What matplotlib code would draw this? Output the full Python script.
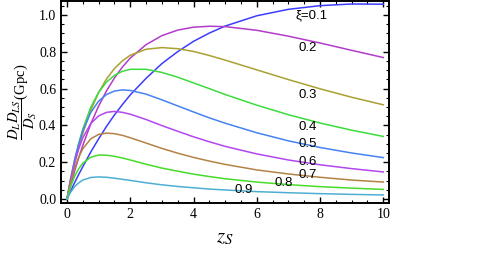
import matplotlib
matplotlib.use("Agg")
import matplotlib.pyplot as plt
from matplotlib.ticker import MultipleLocator, FormatStrFormatter

# redshift of the source
z_s = [0, 0.1, 0.25, 0.375, 0.5, 0.75, 1, 1.25, 1.5, 1.75, 2, 2.5, 3, 3.5, 4, 4.5, 5, 6, 7, 8, 9, 10]

# D_L D_LS / D_S in Gpc, one list per xi
xi_01 = [0, 0.038, 0.092, 0.135, 0.176, 0.255, 0.327, 0.395, 0.457, 0.513, 0.566, 0.656, 0.736, 0.801, 0.857, 0.902, 0.940, 0.996, 1.031, 1.051, 1.060, 1.059]
xi_02 = [0, 0.066, 0.157, 0.227, 0.292, 0.408, 0.505, 0.588, 0.658, 0.717, 0.766, 0.839, 0.888, 0.918, 0.934, 0.939, 0.937, 0.917, 0.885, 0.848, 0.808, 0.769]
xi_03 = [0, 0.085, 0.199, 0.282, 0.357, 0.482, 0.579, 0.653, 0.709, 0.751, 0.781, 0.814, 0.823, 0.817, 0.802, 0.780, 0.755, 0.702, 0.649, 0.599, 0.553, 0.512]
xi_04 = [0, 0.096, 0.219, 0.306, 0.381, 0.498, 0.580, 0.636, 0.672, 0.694, 0.705, 0.705, 0.688, 0.662, 0.631, 0.600, 0.568, 0.510, 0.458, 0.413, 0.374, 0.340]
xi_05 = [0, 0.098, 0.220, 0.302, 0.371, 0.470, 0.532, 0.568, 0.587, 0.593, 0.590, 0.570, 0.539, 0.506, 0.473, 0.441, 0.412, 0.360, 0.316, 0.280, 0.250, 0.225]
xi_06 = [0, 0.093, 0.205, 0.275, 0.333, 0.410, 0.452, 0.471, 0.476, 0.471, 0.461, 0.432, 0.399, 0.368, 0.338, 0.311, 0.286, 0.245, 0.212, 0.186, 0.165, 0.147]
xi_07 = [0, 0.080, 0.173, 0.229, 0.273, 0.327, 0.351, 0.358, 0.355, 0.346, 0.333, 0.304, 0.275, 0.249, 0.226, 0.206, 0.188, 0.158, 0.136, 0.118, 0.103, 0.092]
xi_08 = [0, 0.060, 0.127, 0.166, 0.195, 0.227, 0.239, 0.238, 0.232, 0.223, 0.212, 0.189, 0.168, 0.151, 0.135, 0.122, 0.110, 0.092, 0.078, 0.067, 0.059, 0.052]
xi_09 = [0, 0.033, 0.069, 0.088, 0.103, 0.117, 0.120, 0.118, 0.113, 0.107, 0.101, 0.088, 0.077, 0.068, 0.061, 0.054, 0.049, 0.040, 0.034, 0.029, 0.025, 0.022]

curves = [xi_01, xi_02, xi_03, xi_04, xi_05, xi_06, xi_07, xi_08, xi_09]
labels = ["\u03be=0.1", "0.2", "0.3", "0.4", "0.5", "0.6", "0.7", "0.8", "0.9"]

colors = ["#3c3cff", "#b23cc8", "#aaa032", "#3cdc3c", "#4682f0",
          "#b446f0", "#b48246", "#46dc28", "#4eaed2"]
# where the curve labels sit (data coords)
label_pos = [(7.74, 1.0), (7.6, 0.819), (7.6, 0.565), (7.6, 0.393), (7.6, 0.297),
             (7.6, 0.199), (7.6, 0.130), (6.86, 0.085), (5.6, 0.049)]

plt.rcParams["mathtext.fontset"] = "stix"
plt.rcParams["font.family"] = "Liberation Serif"

fig = plt.figure(figsize=(5, 2.63), dpi=100)
ax = fig.add_axes([0.122, 0.228, 0.656, 0.768])

for ys, c in zip(curves, colors):
    ax.plot(z_s, ys, color=c, lw=1.1)

for lab, (x, y) in zip(labels, label_pos):
    ax.text(x, y, lab, ha="center", va="center", fontsize=9.5,
            family=["Liberation Sans", "DejaVu Sans"])

ax.set_xlim(-0.19, 10.18)
ax.set_ylim(-0.022, 1.076)
ax.xaxis.set_major_locator(MultipleLocator(2))
ax.xaxis.set_minor_locator(MultipleLocator(0.5))
ax.yaxis.set_major_locator(MultipleLocator(0.2))
ax.yaxis.set_minor_locator(MultipleLocator(0.05))
ax.yaxis.set_major_formatter(FormatStrFormatter("%.1f"))
ax.tick_params(which="both", direction="in", top=True, right=True, labelsize=10)
ax.tick_params(which="major", length=4, width=1.0)
ax.tick_params(which="minor", length=2.2, width=0.8)
for sp in ax.spines.values():
    sp.set_linewidth(1.4)

ax.set_xlabel(r"$z_S$", fontsize=15, labelpad=5)
ax.set_ylabel(r"$\dfrac{D_L D_{LS}}{D_S}$(Gpc)", fontsize=10.5, labelpad=0)

fig.savefig("out.png", dpi=100)
